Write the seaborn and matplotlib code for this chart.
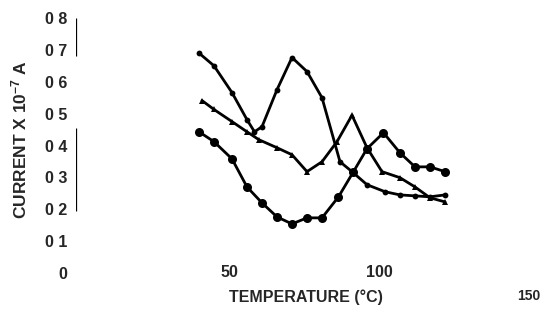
import matplotlib
matplotlib.use("Agg")
import matplotlib.pyplot as plt
import seaborn as sns
import pandas as pd

# ---- data ----
temp_a = [40, 45, 51, 56, 58.5, 61, 66, 71, 76, 81, 87, 91, 96, 102, 107, 112, 117, 122]
curr_a = [0.69, 0.65, 0.566, 0.481, 0.443, 0.459, 0.575, 0.676, 0.632, 0.55, 0.349, 0.318,
          0.277, 0.255, 0.245, 0.242, 0.239, 0.245]

temp_b = [41, 45, 51, 56, 60, 66, 71, 76, 81, 86, 91, 96, 101, 107, 112, 117, 122]
curr_b = [0.541, 0.513, 0.475, 0.443, 0.418, 0.393, 0.371, 0.318, 0.349, 0.412, 0.495,
          0.393, 0.318, 0.299, 0.27, 0.236, 0.223]

temp_c = [40, 45, 51, 56, 61, 66, 71, 76, 81, 86.5, 91.5, 96, 101.5, 107, 112, 117, 122]
curr_c = [0.443, 0.412, 0.358, 0.27, 0.22, 0.176, 0.154, 0.173, 0.173, 0.239, 0.318,
          0.39, 0.44, 0.377, 0.333, 0.333, 0.318]

y_ticks = [0, 0.1, 0.2, 0.3, 0.4, 0.5, 0.6, 0.7, 0.8]
y_tick_labels = ["0", "0 1", "0 2", "0 3", "0 4", "0 5", "0 6", "0 7", "0 8"]
y_marked_ticks = [0.2, 0.3, 0.4, 0.7, 0.8]
x_ticks = [50, 100]
x_tick_labels = ["50", "100"]
x_far_tick = [150]
x_far_label = ["150"]

df_a = pd.DataFrame({"T": temp_a, "I": curr_a})
df_b = pd.DataFrame({"T": temp_b, "I": curr_b})
df_c = pd.DataFrame({"T": temp_c, "I": curr_c})

sns.set_style("white")
plt.rcParams["font.family"] = ["Liberation Sans", "DejaVu Sans"]
plt.rcParams["font.weight"] = "bold"
plt.rcParams["mathtext.fontset"] = "custom"
plt.rcParams["mathtext.rm"] = "Liberation Sans:bold"
plt.rcParams["mathtext.bf"] = "Liberation Sans:bold"
plt.rcParams["mathtext.default"] = "bf"

W, H = 543, 320
fig = plt.figure(figsize=(W / 100, H / 100), dpi=100)
left_px, right_px, top_px, bot_px = 76, 543, 18, 273
ax = fig.add_axes([left_px / W, (H - bot_px) / H, (right_px - left_px) / W, (bot_px - top_px) / H])

lw = 2.0
sns.lineplot(data=df_a, x="T", y="I", ax=ax, color="black", lw=lw, marker="o",
             markersize=4.2, markeredgewidth=0, sort=False, estimator=None)
sns.lineplot(data=df_b, x="T", y="I", ax=ax, color="black", lw=lw, marker="^",
             markersize=4.5, markeredgewidth=0, sort=False, estimator=None)
sns.lineplot(data=df_c, x="T", y="I", ax=ax, color="black", lw=lw, marker="o",
             markersize=6.5, markeredgewidth=0, sort=False, estimator=None)

ax.set_xlim(-1, 154.67)
ax.set_ylim(0, 0.8)
for s in ["top", "right", "bottom", "left"]:
    ax.spines[s].set_visible(False)

# y axis: labels on every tenth, tick marks on some
ax.set_yticks(y_ticks)
ax.set_yticklabels(y_tick_labels)
ax.set_yticks(y_marked_ticks, minor=True)
ax.tick_params(axis="y", which="major", length=0, pad=6, labelsize=11.5)
ax.tick_params(axis="y", which="minor", length=4, width=0.9, color="black", left=True)
ytr = ax.get_yaxis_transform()
ax.vlines(0, 0.68, 0.8, transform=ytr, color="black", lw=0.9)
ax.vlines(0, 0.195, 0.455, transform=ytr, color="black", lw=0.9)

# x axis
ax.set_xticks(x_ticks)
ax.set_xticklabels(x_tick_labels)
ax.set_xticks(x_far_tick, minor=True)
ax.set_xticklabels(x_far_label, minor=True)
ax.tick_params(axis="x", which="major", length=0, pad=-6, labelsize=11.5)
ax.tick_params(axis="x", which="minor", length=0, pad=11.5, labelsize=10, bottom=True)

ax.set_xlabel("TEMPERATURE (°C)", fontsize=11.5, fontweight="bold")
ax.xaxis.set_label_coords(0.4925, -0.065)
ax.set_ylabel(r"CURRENT X 10$^{-7}$ A", fontsize=12.5, fontweight="bold")
ax.yaxis.set_label_coords(-0.1, 0.525)

fig.savefig("out.png", dpi=100)
